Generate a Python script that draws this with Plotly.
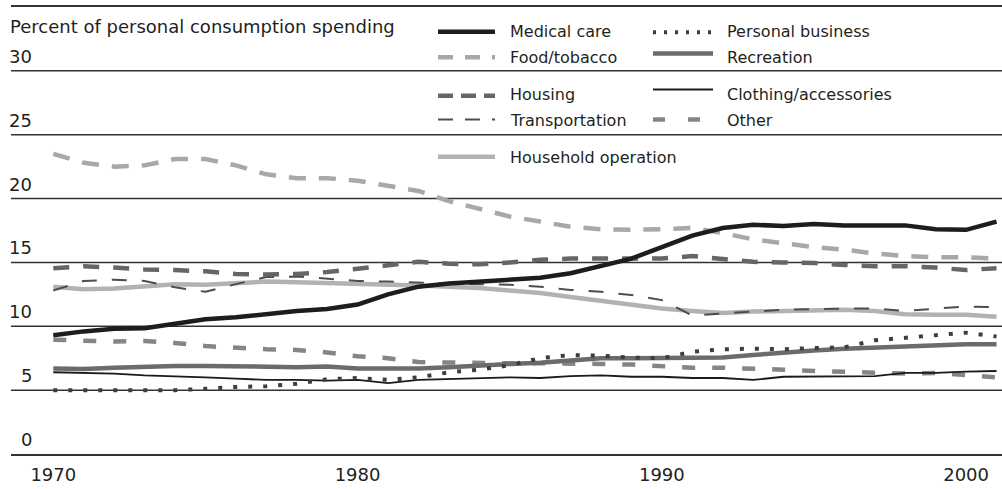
import plotly.graph_objects as go

years = list(range(1970, 2002))

medical_care = [9.3, 9.6, 9.8, 9.85, 10.2, 10.55, 10.7, 10.95, 11.2, 11.35, 11.7, 12.5, 13.1, 13.35, 13.5, 13.65,
                13.8, 14.15, 14.7, 15.3, 16.2, 17.1, 17.7, 17.95, 17.85, 18.0, 17.9, 17.9, 17.9, 17.6, 17.55, 18.2]
food_tobacco = [23.5, 22.8, 22.5, 22.6, 23.1, 23.1, 22.6, 21.9, 21.6, 21.6, 21.4, 21.0, 20.6, 19.8, 19.2, 18.6,
                18.2, 17.8, 17.6, 17.55, 17.6, 17.7, 17.3, 16.8, 16.5, 16.2, 16.0, 15.7, 15.5, 15.4, 15.4, 15.3]
housing = [14.55, 14.7, 14.6, 14.45, 14.4, 14.3, 14.1, 14.05, 14.1, 14.25, 14.5, 14.8, 15.05, 14.9, 14.85, 15.0,
           15.2, 15.3, 15.3, 15.25, 15.3, 15.5, 15.3, 15.05, 15.0, 14.95, 14.8, 14.7, 14.7, 14.6, 14.4, 14.55]
transportation = [12.8, 13.55, 13.65, 13.55, 13.05, 12.7, 13.3, 13.85, 13.9, 13.7, 13.55, 13.5, 13.4, 13.35, 13.3, 13.25,
                  13.1, 12.85, 12.7, 12.45, 12.05, 10.85, 11.0, 11.15, 11.3, 11.35, 11.4, 11.4, 11.2, 11.4, 11.55, 11.5]
household_operation = [13.1, 12.9, 12.95, 13.1, 13.3, 13.25, 13.4, 13.5, 13.45, 13.4, 13.35, 13.3, 13.2, 13.1, 13.0, 12.8,
                       12.6, 12.3, 12.0, 11.75, 11.4, 11.2, 11.05, 11.15, 11.2, 11.2, 11.3, 11.2, 10.95, 10.9, 10.9, 10.75]
personal_business = [5.0, 5.0, 5.0, 5.0, 5.0, 5.1, 5.25, 5.3, 5.5, 5.85, 5.95, 5.8, 6.0, 6.4, 6.6, 6.95,
                     7.5, 7.75, 7.7, 7.55, 7.5, 8.0, 8.2, 8.25, 8.2, 8.3, 8.35, 8.9, 9.1, 9.25, 9.5, 9.2]
recreation = [6.7, 6.65, 6.75, 6.85, 6.9, 6.9, 6.85, 6.8, 6.8, 6.85, 6.7, 6.7, 6.7, 6.8, 6.95, 7.05,
              7.15, 7.35, 7.5, 7.5, 7.5, 7.5, 7.55, 7.75, 7.95, 8.1, 8.25, 8.35, 8.45, 8.55, 8.6, 8.6]
clothing_accessories = [6.4, 6.35, 6.3, 6.15, 6.1, 6.0, 5.9, 5.8, 5.8, 5.75, 5.8, 5.55, 5.8, 5.85, 5.95, 6.0,
                        5.95, 6.1, 6.15, 6.05, 6.05, 5.95, 5.95, 5.8, 6.05, 6.05, 6.1, 6.1, 6.35, 6.35, 6.45, 6.5]
other = [8.95, 8.9, 8.8, 8.85, 8.7, 8.45, 8.3, 8.2, 8.15, 7.95, 7.65, 7.5, 7.2, 7.15, 7.1, 7.1,
         7.1, 7.1, 7.05, 7.0, 6.85, 6.75, 6.75, 6.7, 6.6, 6.5, 6.45, 6.35, 6.3, 6.35, 6.2, 6.0]

y_ticks = [0, 5, 10, 15, 20, 25, 30]
grid_values = [5, 10, 15, 20, 25, 30]
x_ticks = [1970, 1980, 1990, 2000]
y_title = "Percent of personal consumption spending"

FONT = "DejaVu Sans"
TXT = "#231f20"
GRID = "#333333"

# name, values, color, width, dash, legend col, legend text y(px), legend line y(px), legend dash
series = [
    ("Other", other, "#858585", 4.5, "13px,17px", 1, 120.7, 119.5, "12px,23px"),
    ("Clothing/accessories", clothing_accessories, "#1a1a1a", 1.8, "solid", 1, 94.3, 89.5, "solid"),
    ("Recreation", recreation, "#6b6b6b", 4.5, "solid", 1, 57.3, 53.5, "solid"),
    ("Personal business", personal_business, "#3d3d3d", 4, "4px,11px", 1, 31.7, 32.3, "3px,8px"),
    ("Household operation", household_operation, "#b1b2b4", 4.5, "solid", 0, 157.7, 156.7, "solid"),
    ("Transportation", transportation, "#4d4d4d", 2, "15px,15px", 0, 120.7, 119.5, "15px,12px"),
    ("Housing", housing, "#666666", 4.5, "16px,14px", 0, 94.3, 95.7, "15px,8px"),
    ("Food/tobacco", food_tobacco, "#a7a8aa", 4.5, "17px,13px", 0, 57.3, 57.3, "15px,12px"),
    ("Medical care", medical_care, "#1e1c1c", 4.5, "solid", 0, 31.7, 31.7, "solid"),
]

fig = go.Figure()
for name, vals, color, w, dash, col, ty, ly, ldash in series:
    fig.add_trace(go.Scatter(x=years, y=vals, mode="lines", name=name,
                             line=dict(color=color, width=w, dash=dash),
                             showlegend=False, hoverinfo="skip"))

W, H = 1002, 489
L, R, T, B = 11, 0, 7, 35
pw, ph = W - L - R, H - T - B
Y_RANGE = [0, 35]


def px(x):
    return (x - L) / pw


def py(y):
    return (H - B - y) / ph


shapes = []
annotations = []

for g in grid_values:
    shapes.append(dict(type="line", xref="paper", yref="y", x0=0, x1=1, y0=g, y1=g,
                       layer="below", line=dict(color=GRID, width=1.5)))

col_line = [(438, 495), (653, 713)]
col_text = [508, 725]
for name, vals, color, w, dash, col, ty, ly, ldash in series:
    x0, x1 = col_line[col]
    shapes.append(dict(type="line", xref="paper", yref="paper",
                       x0=px(x0), x1=px(x1), y0=py(ly), y1=py(ly),
                       line=dict(color=color, width=w, dash=ldash)))
    annotations.append(dict(text=name, xref="paper", yref="paper", x=px(col_text[col]), y=py(ty),
                            xanchor="left", yanchor="middle", showarrow=False,
                            font=dict(family=FONT, size=16, color=TXT)))

for t in y_ticks:
    annotations.append(dict(text=str(t), xref="paper", yref="y", x=px(34), y=t,
                            xanchor="right", yanchor="bottom", yshift=2, showarrow=False,
                            font=dict(family=FONT, size=18, color=TXT)))

annotations.append(dict(text=y_title, xref="paper", yref="paper", x=px(8), y=py(26.7),
                        xanchor="left", yanchor="middle", showarrow=False,
                        font=dict(family=FONT, size=18, color=TXT)))

fig.update_layout(
    width=W, height=H,
    margin=dict(l=L, r=R, t=T, b=B, pad=0),
    paper_bgcolor="white", plot_bgcolor="white",
    shapes=shapes, annotations=annotations,
    xaxis=dict(range=[1968.61, 2001.18], tickvals=x_ticks, ticks="", showgrid=False,
               zeroline=False, showline=True, mirror=True, linecolor=GRID, linewidth=1.5,
               tickfont=dict(family=FONT, size=18, color=TXT), ticklabelstandoff=4),
    yaxis=dict(range=Y_RANGE, showticklabels=False, ticks="", showgrid=False,
               zeroline=False, showline=False),
    showlegend=False,
)

fig.write_html("out.html", config={"displayModeBar": False},
               post_script="document.body.style.margin='0px';document.body.style.overflow='hidden';")
